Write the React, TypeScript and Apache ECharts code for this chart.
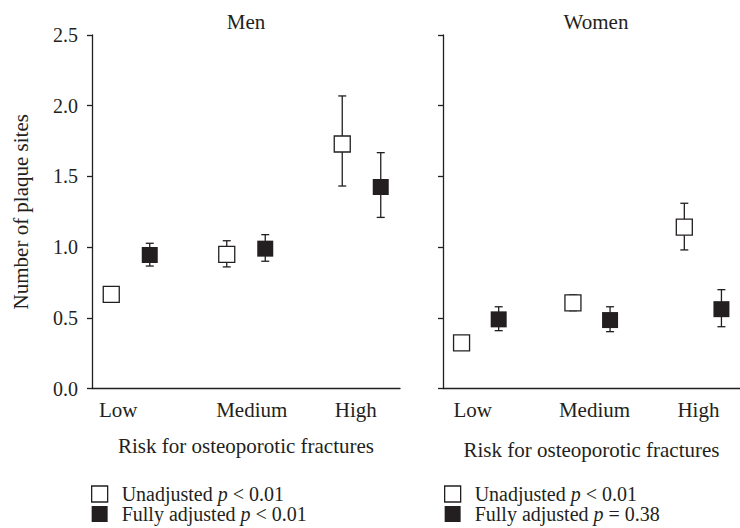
import React, { useEffect, useRef } from "react";
import * as echarts from "echarts";

const categories = ["Low", "Medium", "High"];
const yTicks = [0, 0.5, 1.0, 1.5, 2.0, 2.5];

const menUnadj = [0.665, 0.948, 1.729];
const menUnadjLo = [0.62, 0.86, 1.432];
const menUnadjHi = [0.71, 1.045, 2.069];
const menAdj = [0.944, 0.989, 1.425];
const menAdjLo = [0.866, 0.9, 1.21];
const menAdjHi = [1.027, 1.088, 1.668];

const womenUnadj = [0.323, 0.606, 1.141];
const womenUnadjLo = [0.28, 0.55, 0.98];
const womenUnadjHi = [0.36, 0.663, 1.31];
const womenAdj = [0.489, 0.484, 0.561];
const womenAdjLo = [0.409, 0.402, 0.437];
const womenAdjHi = [0.578, 0.578, 0.699];

const legendMen = ["Unadjusted|< 0.01", "Fully adjusted|< 0.01"];
const legendWomen = ["Unadjusted|< 0.01", "Fully adjusted|= 0.38"];

const INK = "#231f20";
const FONT = "'Liberation Serif', 'DejaVu Serif', serif";
const FS = 21;
const TICK_FS = 20;
const LEG_FS = 20;

export default function App() {
  const ref = useRef<HTMLDivElement>(null);
  useEffect(() => {
    if (!ref.current) return;
    const chart = echarts.init(ref.current, undefined, { renderer: "svg" });

    const slot = (i: number, adj: boolean) => i * 3 + (adj ? 1.5 : 0.5);
    const pts = (vals: number[], adj: boolean) => vals.map((v, i) => [slot(i, adj), v]);
    const bars = (lo: number[], hi: number[], adj: boolean) =>
      lo.map((l, i) => [slot(i, adj), l, hi[i]]);

    const errRender = (params: any, api: any) => {
      const x = api.value(0);
      const a = api.coord([x, api.value(1)]);
      const b = api.coord([x, api.value(2)]);
      const w = 4;
      const style = { stroke: INK, lineWidth: 1.3 };
      return {
        type: "group",
        children: [
          { type: "line", shape: { x1: a[0], y1: a[1], x2: b[0], y2: b[1] }, style },
          { type: "line", shape: { x1: a[0] - w, y1: a[1], x2: a[0] + w, y2: a[1] }, style },
          { type: "line", shape: { x1: b[0] - w, y1: b[1], x2: b[0] + w, y2: b[1] }, style },
        ],
      };
    };

    const labelPosLeft = [0.68, 4.15, 6.85];
    const labelPosRight = [0.8, 4.08, 6.88];

    const xAxis = (idx: number, pos: number[], gap: number) => ({
      type: "value",
      gridIndex: idx,
      min: 0,
      max: 8,
      axisLine: { show: true, lineStyle: { color: INK, width: 1.3 } },
      axisTick: { show: false },
      splitLine: { show: false },
      axisLabel: {
        customValues: pos,
        margin: 11,
        color: INK,
        fontFamily: FONT,
        fontSize: FS,
        formatter: (v: number) => {
          const k = pos.findIndex((p) => Math.abs(p - v) < 1e-6);
          return k >= 0 ? categories[k] : "";
        },
      },
      name: "Risk for osteoporotic fractures",
      nameLocation: "middle",
      nameGap: gap,
      nameTextStyle: { color: INK, fontFamily: FONT, fontSize: FS },
    });

    const yAxis = (idx: number, showLabels: boolean) => ({
      type: "value",
      gridIndex: idx,
      min: 0,
      max: 2.5,
      interval: 0.5,
      axisLine: { show: true, lineStyle: { color: INK, width: 1.3 } },
      axisTick: { show: true, length: 5, lineStyle: { color: INK, width: 1.3 } },
      splitLine: { show: false },
      axisLabel: {
        show: showLabels,
        margin: 14,
        color: INK,
        fontFamily: FONT,
        fontSize: TICK_FS,
        formatter: (v: number) => v.toFixed(1),
      },
      name: showLabels ? "Number of plaque sites" : "",
      nameLocation: "middle",
      nameGap: 61,
      nameTextStyle: { color: INK, fontFamily: FONT, fontSize: FS },
    });

    const unadjStyle = { color: "#ffffff", borderColor: INK, borderWidth: 1.3, opacity: 1 };
    const adjStyle = { color: INK, borderColor: INK, borderWidth: 0, opacity: 1 };

    const legendFmt = (name: string) => {
      const [a, b] = name.split("::")[1].split("|");
      return `{t|${a} }{i|p}{t| ${b}}`;
    };
    const rich = {
      t: { fontFamily: FONT, fontSize: LEG_FS, color: INK, lineHeight: 22 },
      i: { fontFamily: FONT, fontSize: LEG_FS, color: INK, fontStyle: "italic", lineHeight: 22 },
    };

    const nm = (panel: string, label: string) => `${panel}::${label}`;

    const legend = (panel: string, labels: string[], left: number) => ({
      orient: "vertical",
      left,
      top: 484,
      height: 80,
      itemWidth: 16,
      itemHeight: 16,
      itemGap: 0,
      padding: 0,
      selectedMode: false,
      formatter: legendFmt,
      textStyle: { rich, padding: [0, 0, 0, 9] },
      data: [
        { name: nm(panel, labels[0]), icon: "rect", itemStyle: unadjStyle },
        { name: nm(panel, labels[1]), icon: "rect", itemStyle: adjStyle },
      ],
    });

    const option: any = {
      animation: false,
      title: [
        { text: "Men", left: 246, top: 11, textAlign: "center", padding: 0,
          textStyle: { color: INK, fontFamily: FONT, fontSize: FS, fontWeight: "normal" } },
        { text: "Women", left: 596, top: 11, textAlign: "center", padding: 0,
          textStyle: { color: INK, fontFamily: FONT, fontSize: FS, fontWeight: "normal" } },
      ],
      grid: [
        { left: 92, top: 35, width: 308, height: 353.5 },
        { left: 443, top: 35, width: 308, height: 353.5 },
      ],
      xAxis: [xAxis(0, labelPosLeft, 47), xAxis(1, labelPosRight, 51)],
      yAxis: [yAxis(0, true), yAxis(1, false)],
      legend: [legend("Men", legendMen, 91), legend("Women", legendWomen, 444)],
      series: [
        { type: "custom", name: "menUErr", xAxisIndex: 0, yAxisIndex: 0, renderItem: errRender,
          data: bars(menUnadjLo, menUnadjHi, false), z: 1 },
        { type: "custom", name: "menAErr", xAxisIndex: 0, yAxisIndex: 0, renderItem: errRender,
          data: bars(menAdjLo, menAdjHi, true), z: 1 },
        { type: "custom", name: "womenUErr", xAxisIndex: 1, yAxisIndex: 1, renderItem: errRender,
          data: bars(womenUnadjLo, womenUnadjHi, false), z: 1 },
        { type: "custom", name: "womenAErr", xAxisIndex: 1, yAxisIndex: 1, renderItem: errRender,
          data: bars(womenAdjLo, womenAdjHi, true), z: 1 },
        { type: "scatter", name: nm("Men", legendMen[0]), xAxisIndex: 0, yAxisIndex: 0,
          symbol: "rect", symbolSize: 16, itemStyle: unadjStyle, data: pts(menUnadj, false), z: 3 },
        { type: "scatter", name: nm("Men", legendMen[1]), xAxisIndex: 0, yAxisIndex: 0,
          symbol: "rect", symbolSize: 16, itemStyle: adjStyle, data: pts(menAdj, true), z: 3 },
        { type: "scatter", name: nm("Women", legendWomen[0]), xAxisIndex: 1, yAxisIndex: 1,
          symbol: "rect", symbolSize: 16, itemStyle: unadjStyle, data: pts(womenUnadj, false), z: 3 },
        { type: "scatter", name: nm("Women", legendWomen[1]), xAxisIndex: 1, yAxisIndex: 1,
          symbol: "rect", symbolSize: 16, itemStyle: adjStyle, data: pts(womenAdj, true), z: 3 },
      ],
    };
    chart.setOption(option);
    return () => chart.dispose();
  }, []);
  return (
    <div
      ref={ref}
      style={{ position: "absolute", left: 0, top: 0, width: 740, height: 528, background: "#fff" }}
    />
  );
}
